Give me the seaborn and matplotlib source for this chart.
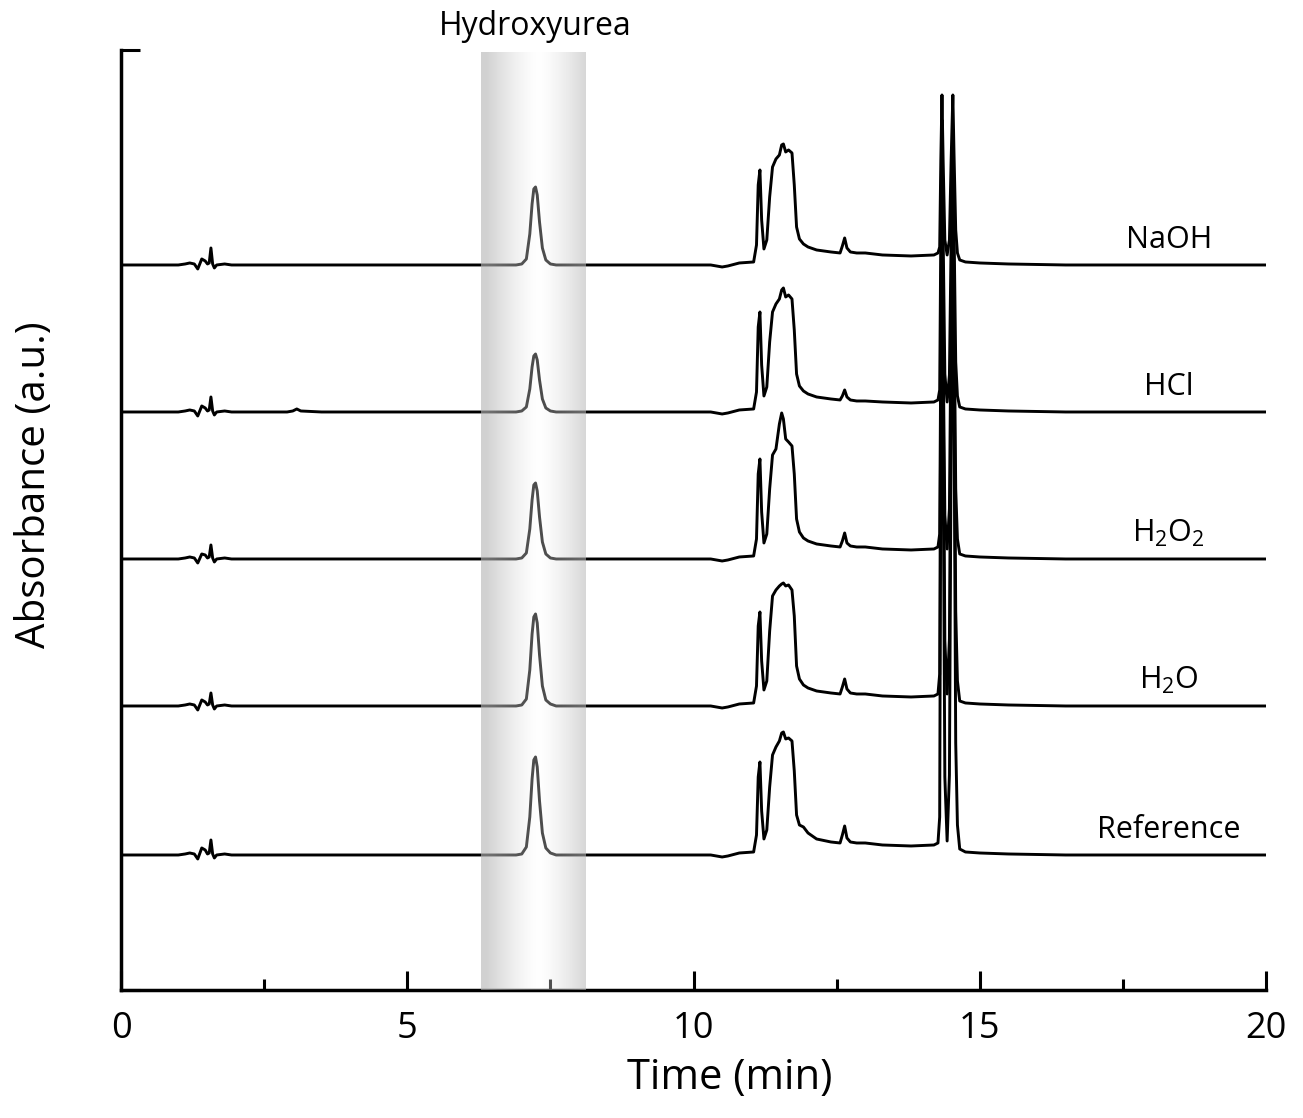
import numpy as np
import pandas as pd
import matplotlib
matplotlib.use("Agg")
import matplotlib.pyplot as plt
import matplotlib.transforms as mtransforms
import seaborn as sns

# retention time (min), shared by all traces
time_inj = [0.0, 1.0, 1.12, 1.2, 1.28, 1.34, 1.41, 1.47, 1.51, 1.54, 1.57, 1.6, 1.63, 1.67, 1.81, 1.93]
time_bump = [2.9, 3.0, 3.07, 3.14, 3.5]
time_hu = [6.9, 7.0, 7.08, 7.14, 7.18, 7.21, 7.24, 7.27, 7.31, 7.36, 7.42, 7.5, 7.6]
time_mid = [10.3, 10.5, 10.6, 10.8, 11.05, 11.1, 11.13, 11.16, 11.19, 11.23, 11.28, 11.33, 11.38,
            11.44, 11.5, 11.54, 11.57, 11.61, 11.66, 11.72, 11.76, 11.8, 11.85, 11.92, 12.0, 12.15,
            12.4, 12.56, 12.6, 12.64, 12.68, 12.74, 12.85, 13.0, 13.3, 13.8, 14.2]
time_main = [14.27, 14.3, 14.32, 14.34, 14.36, 14.39, 14.43, 14.47, 14.5, 14.53, 14.55, 14.58,
             14.61, 14.65, 14.75, 15.0, 15.5, 16.5, 20.0]

# absorbance (a.u.) above each trace's own baseline
naoh = ([0, 0, 1, 2, 1, -4, 6, 4, 1, 2, 17, 1, -3, 0, 1, 0]
        + [0, 0, 0, 0, 0]
        + [0, 1, 6, 31, 61, 76, 78, 70, 43, 17, 5, 1, 0]
        + [0, -2, -1, 2, 3, 20, 80, 95, 45, 16, 25, 68, 98, 106, 110, 120, 121, 113, 115, 112,
           80, 38, 26, 21, 18, 15, 13, 12, 19, 27, 17, 13, 12, 12, 10, 9, 10]
        + [12, 18, 105, 170, 105, 25, 10, 25, 105, 170, 112, 35, 12, 5, 3, 2, 1, 0, 0])
hcl = ([0, 0, 1, 2, 1, -4, 6, 4, 1, 2, 15, 1, -3, 0, 1, 0]
       + [0, 1, 3, 1, 0]
       + [0, 1, 5, 23, 45, 56, 58, 52, 32, 13, 4, 1, 0]
       + [0, -2, -1, 2, 3, 20, 85, 100, 47, 16, 25, 70, 100, 108, 113, 122, 124, 115, 117, 113,
          82, 38, 26, 21, 18, 15, 13, 12, 16, 22, 15, 12, 11, 11, 10, 9, 10]
       + [12, 22, 178, 292, 178, 38, 10, 37, 172, 282, 186, 50, 16, 5, 3, 2, 1, 0, 0])
h2o2 = ([0, 0, 1, 2, 1, -4, 5, 4, 1, 2, 14, 1, -3, 0, 1, 0]
        + [0, 0, 0, 0, 0]
        + [0, 1, 6, 30, 59, 74, 76, 68, 42, 17, 5, 1, 0]
        + [0, -2, -1, 2, 3, 20, 85, 100, 47, 16, 25, 70, 104, 110, 135, 146, 140, 120, 117, 113,
           85, 40, 27, 21, 18, 15, 13, 12, 18, 26, 16, 13, 12, 12, 10, 9, 10]
        + [12, 25, 212, 349, 212, 44, 10, 50, 245, 404, 265, 70, 20, 5, 3, 2, 1, 0, 0])
h2o = ([0, 0, 1, 2, 1, -4, 6, 4, 1, 2, 13, 1, -3, 0, 1, 0]
       + [0, 0, 0, 0, 0]
       + [0, 1, 7, 36, 72, 89, 92, 83, 51, 20, 6, 2, 0]
       + [0, -2, -1, 2, 3, 20, 80, 94, 45, 16, 25, 75, 110, 116, 120, 122, 123, 120, 121, 116,
          90, 40, 27, 21, 18, 15, 13, 12, 19, 27, 17, 13, 12, 12, 10, 9, 10]
       + [12, 32, 337, 556, 337, 65, 12, 67, 342, 566, 370, 95, 25, 5, 3, 2, 1, 0, 0])
reference = ([0, 0, 1, 2, 1, -4, 7, 5, 1, 2, 15, 1, -3, 0, 1, 0]
             + [0, 0, 0, 0, 0]
             + [0, 1, 8, 38, 76, 95, 98, 88, 54, 22, 7, 2, 0]
             + [0, -2, -1, 2, 3, 20, 78, 93, 44, 16, 25, 68, 100, 108, 114, 122, 123, 116, 117, 114,
                84, 40, 30, 28, 22, 16, 13, 12, 20, 29, 17, 13, 12, 12, 10, 9, 10]
             + [12, 38, 408, 675, 408, 78, 14, 80, 414, 685, 448, 112, 30, 6, 3, 2, 1, 0, 0])

labels = ["NaOH", "HCl", r"H$_2$O$_2$", r"H$_2$O", "Reference"]
offsets = [725, 578, 431, 284, 135]
band = (6.29, 8.12)

time = time_inj + time_bump + time_hu + time_mid + time_main
rows = []
for lab, off, sig in zip(labels, offsets, [naoh, hcl, h2o2, h2o, reference]):
    for t, v in zip(time, sig):
        rows.append({"time": t, "absorbance": v + off, "sample": lab})
df = pd.DataFrame(rows)

sns.set_theme(style="ticks")
plt.rcParams["font.family"] = ["Open Sans", "DejaVu Sans"]
plt.rcParams["mathtext.fontset"] = "custom"
plt.rcParams["mathtext.rm"] = "Open Sans"
plt.rcParams["mathtext.it"] = "Open Sans"
plt.rcParams["text.color"] = "black"
plt.rcParams["axes.labelcolor"] = "black"
plt.rcParams["xtick.color"] = "black"
plt.rcParams["ytick.color"] = "black"

fig = plt.figure(figsize=(13.03, 11.18), dpi=100)
ax = fig.add_axes([0.0929, 0.1145, 0.8787, 0.8408])

for lab in labels:
    sns.lineplot(data=df[df["sample"] == lab], x="time", y="absorbance", estimator=None,
                 sort=False, color="black", lw=2.1, ax=ax)

# shaded gradient band over the hydroxyurea peak
u = np.linspace(0, 1, 200)
d = np.clip(np.abs(u - 0.55) / 0.5, 0, 1) ** 1.4
bg = 1 - 0.18 * d
ln = 0.3 + 0.15 * d
alpha = 1 - bg + ln
gray = ln / alpha
img = np.zeros((1, len(u), 4))
img[0, :, 0] = gray
img[0, :, 1] = gray
img[0, :, 2] = gray
img[0, :, 3] = alpha
ax.imshow(img, extent=(band[0], band[1], 0, 937), aspect="auto", zorder=5,
          interpolation="bilinear")

trans = mtransforms.blended_transform_factory(ax.transData, ax.transAxes)
ax.text(7.23, 1.0245, "Hydroxyurea", transform=trans, ha="center", va="center",
        fontsize=23, clip_on=False)

for lab, off in zip(labels, offsets):
    ax.text(18.3, off + 10, lab, ha="center", va="bottom", fontsize=22)

ax.set_xlim(0, 20)
ax.set_ylim(0, 940)
ax.set_xticks([0, 5, 10, 15, 20])
ax.set_xticks([2.5, 7.5, 12.5, 17.5], minor=True)
ax.set_yticks([0, 940])
ax.set_yticklabels([])
ax.tick_params(axis="x", which="major", direction="in", length=14, width=2.2,
               labelsize=26, pad=15, color="black", labelcolor="black")
ax.tick_params(axis="x", which="minor", direction="in", length=8, width=2.2, color="black")
ax.tick_params(axis="y", which="major", direction="in", length=14, width=2.2, color="black")
for side in ["top", "right"]:
    ax.spines[side].set_visible(False)
for side in ["left", "bottom"]:
    ax.spines[side].set_linewidth(2.5)
    ax.spines[side].set_color("black")

ax.set_xlabel("Time (min)", fontsize=30)
ax.set_ylabel("Absorbance (a.u.)", fontsize=29)
ax.xaxis.set_label_coords(0.532, -0.071)
ax.yaxis.set_label_coords(-0.058, 0.538)

fig.savefig("out.png", dpi=100)
